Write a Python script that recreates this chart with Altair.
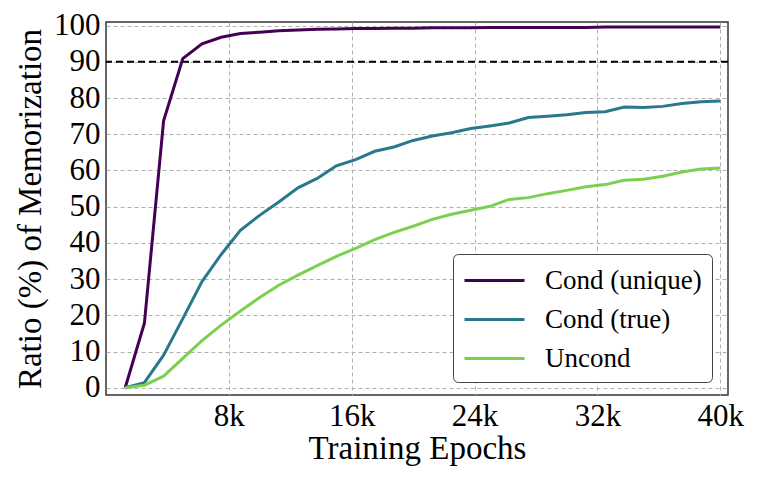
import altair as alt
import pandas as pd

# training epochs, one checkpoint every 1250 epochs
epochs = [1250 * k for k in range(1, 33)]

cond_unique = [0.0, 17.8, 73.7, 90.9, 95.0, 96.8, 97.8, 98.2, 98.6, 98.8, 99.0, 99.1,
               99.2, 99.2, 99.3, 99.3, 99.4, 99.4, 99.4, 99.5, 99.5, 99.5, 99.5, 99.5,
               99.5, 99.6, 99.6, 99.6, 99.6, 99.6, 99.6, 99.6]
cond_true = [0.0, 1.4, 9.0, 19.1, 29.3, 36.8, 43.5, 47.6, 51.3, 55.2, 57.8, 61.3,
             63.0, 65.3, 66.5, 68.3, 69.5, 70.4, 71.6, 72.3, 73.1, 74.6, 75.0, 75.4,
             76.0, 76.2, 77.5, 77.4, 77.7, 78.5, 79.0, 79.2]
uncond = [0.0, 0.7, 3.2, 8.1, 13.0, 17.3, 21.2, 24.9, 28.3, 31.1, 33.7, 36.3,
          38.5, 40.9, 42.9, 44.6, 46.5, 47.9, 49.0, 50.1, 52.0, 52.5, 53.6, 54.5,
          55.5, 56.1, 57.3, 57.6, 58.4, 59.6, 60.4, 60.7]

series = ["Cond (unique)", "Cond (true)", "Uncond"]
colors = ["#440154", "#2a788e", "#7ad151"]
threshold = [90]

x_ticks = [8000, 16000, 24000, 32000, 40000]
y_ticks = list(range(0, 101, 10))

FONT = "Liberation Serif"

rows = []
for name, vals in zip(series, [cond_unique, cond_true, uncond]):
    for e, v in zip(epochs, vals):
        rows.append({"epoch": e, "ratio": v, "series": name, "order": series.index(name)})
df = pd.DataFrame(rows)

x_scale = alt.Scale(domain=[0, 40500], nice=False, zero=False)
y_scale = alt.Scale(domain=[-2, 101], nice=False, zero=False)
y_axis = alt.Axis(values=y_ticks, tickCount=11, labelOverlap=False)


def y_enc(field):
    return alt.Y(field, scale=y_scale, title="Ratio (%) of Memorization", axis=y_axis)


lines = (
    alt.Chart(df)
    .mark_line(strokeWidth=3, clip=True)
    .encode(
        x=alt.X(
            "epoch:Q",
            scale=x_scale,
            title="Training Epochs",
            axis=alt.Axis(values=x_ticks, labelExpr="datum.value / 1000 + 'k'"),
        ),
        y=y_enc("ratio:Q"),
        color=alt.Color(
            "series:N",
            scale=alt.Scale(domain=series, range=colors),
            sort=series,
            legend=alt.Legend(
                title=None,
                orient="none",
                legendX=347,
                legendY=232,
                # wide flat line symbol: path in [-1,1] units, scaled by sqrt(size)/2
                symbolType="M-1,0H3",
                symbolSize=900,
                symbolStrokeWidth=3,
                labelFont=FONT,
                labelFontSize=27,
                labelOffset=49,
                labelColor="black",
                rowPadding=9,
                padding=10,
                cornerRadius=5,
                strokeColor="#444444",
                fillColor="white",
            ),
        ),
        order="order:Q",
    )
)

hline = (
    alt.Chart(pd.DataFrame({"ratio": threshold}))
    .mark_rule(color="black", strokeWidth=2, strokeDash=[7, 4])
    .encode(y=y_enc("ratio:Q"))
)

chart = (
    alt.layer(hline, lines)
    .properties(width=622, height=373, autosize="none",
                padding={"left": 98, "top": 14, "right": 26, "bottom": 80})
    .configure_view(stroke="#333333", strokeWidth=1.5)
    .configure_axis(
        grid=True,
        gridColor="#b0b0b0",
        gridDash=[4, 3],
        gridWidth=1,
        domain=False,
        ticks=False,
        labelOverlap=False,
        labelFont=FONT,
        labelFontSize=31,
        labelColor="black",
        titleFont=FONT,
        titleFontSize=33,
        titleFontWeight="normal",
        titleColor="black",
    )
    .configure_axisX(labelPadding=6, titlePadding=1)
    .configure_axisY(labelPadding=6, titlePadding=6)
)

chart.save("out.html", embed_options={"renderer": "svg", "actions": False})
